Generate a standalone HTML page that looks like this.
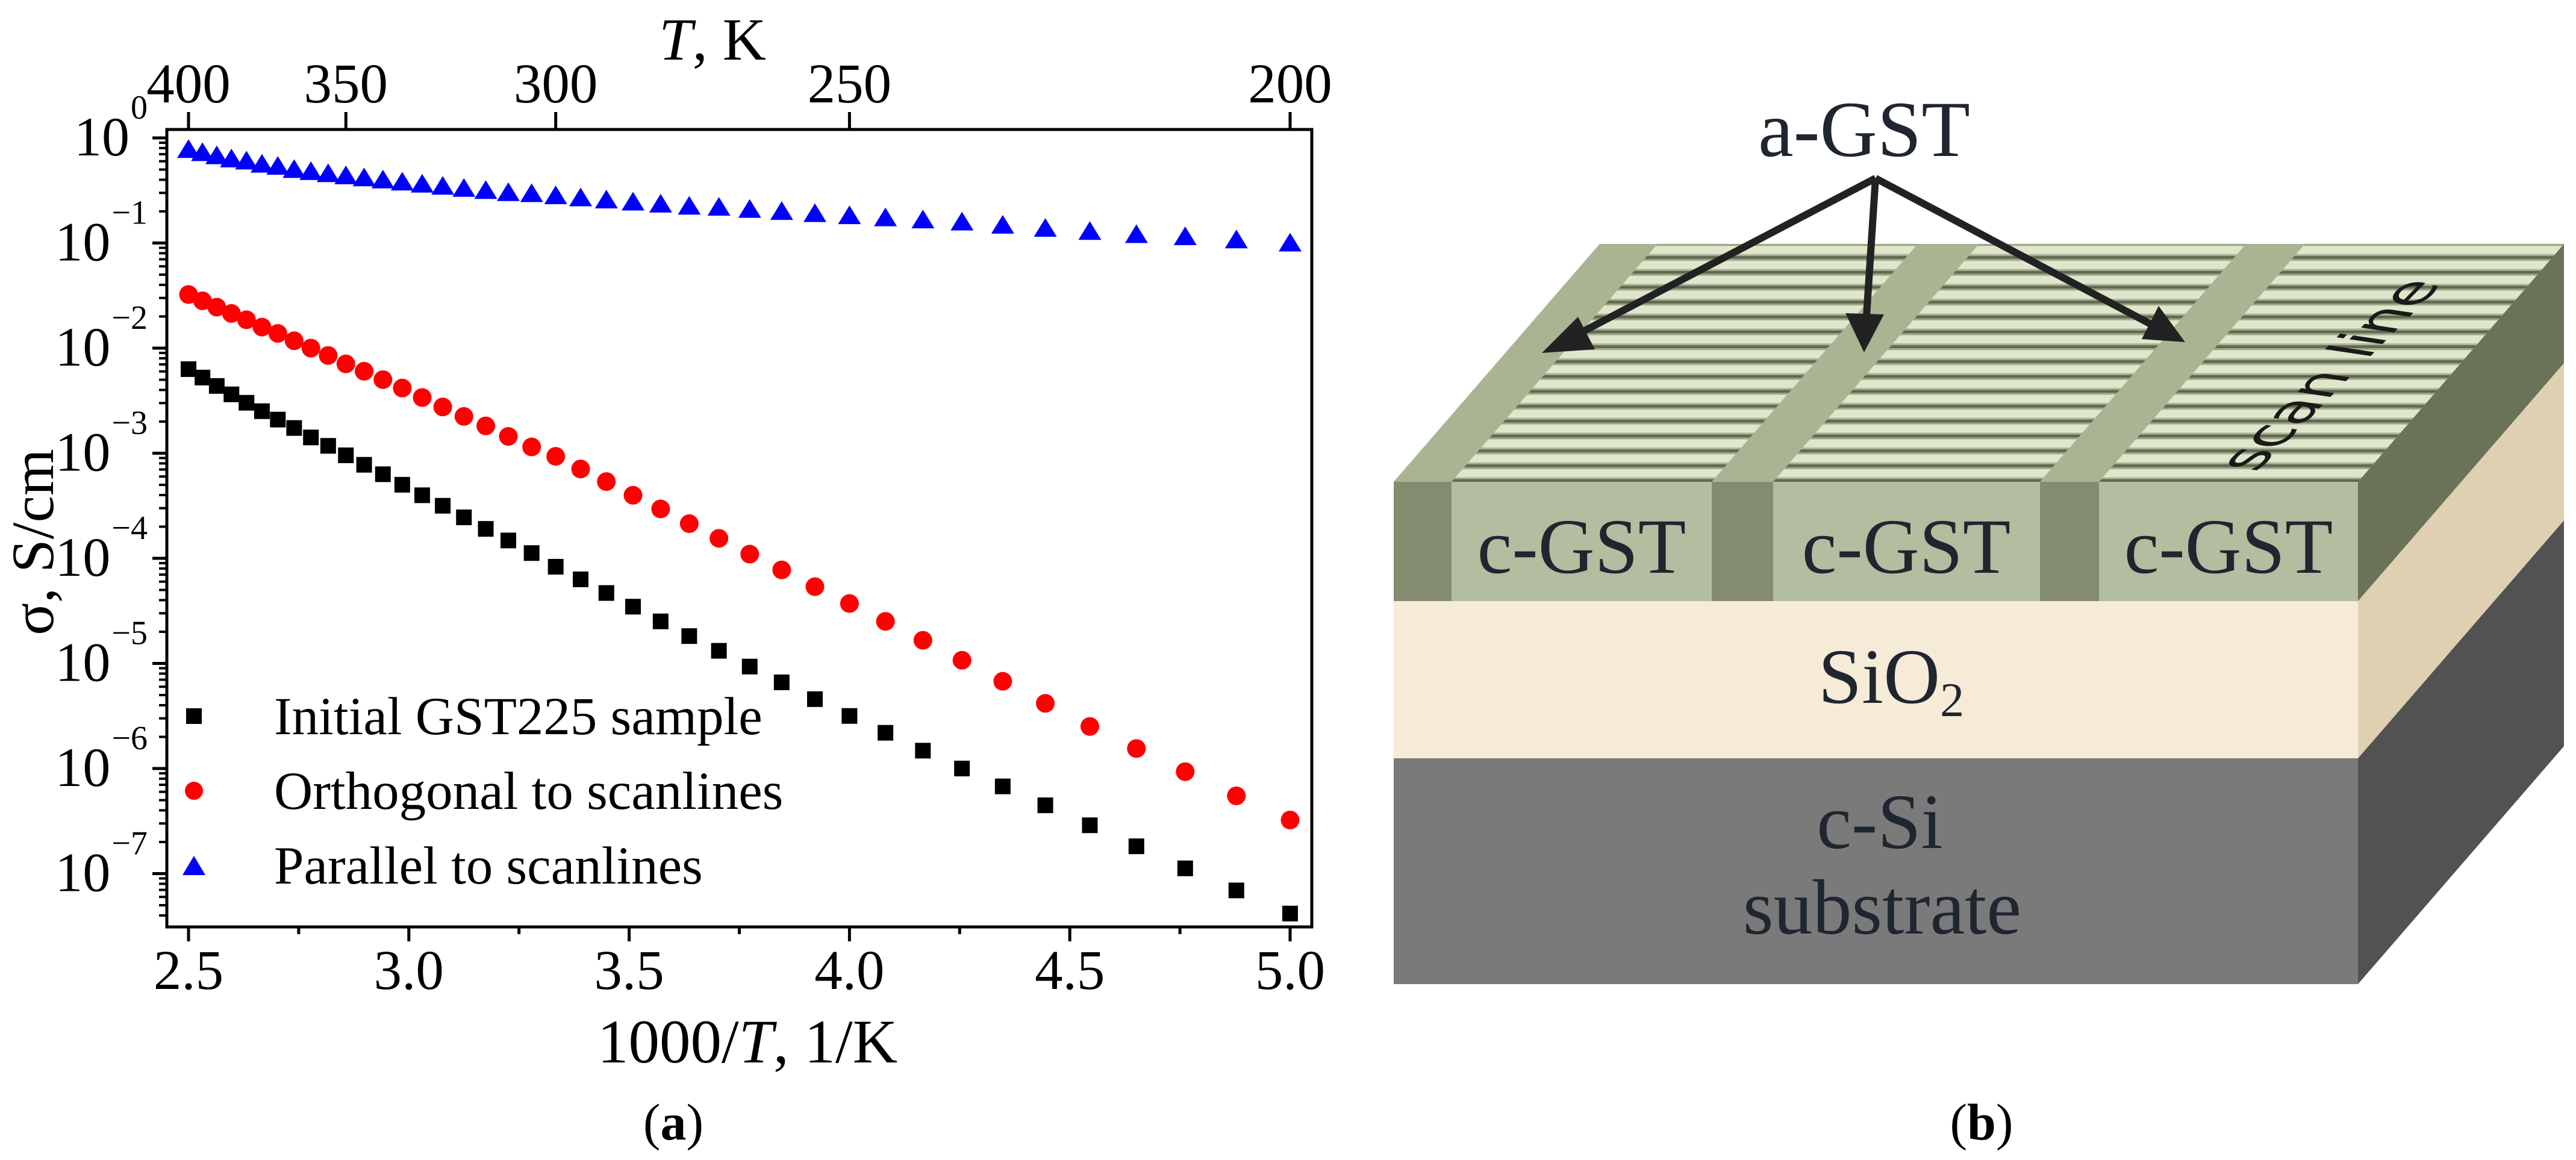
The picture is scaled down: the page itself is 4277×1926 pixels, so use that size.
<!DOCTYPE html>
<html><head><meta charset="utf-8">
<style>
html,body{margin:0;padding:0;background:#fff;}
svg{display:block;}
text{font-family:"Liberation Serif",serif;}
</style></head>
<body>
<svg id="fig" width="4277" height="1926" viewBox="0 0 4277 1926" xmlns="http://www.w3.org/2000/svg">
<defs>
  <pattern id="scan" patternUnits="userSpaceOnUse" width="40" height="24.7" y="410">
    <rect width="40" height="24.7" fill="#dfe6cb"/>
    <rect y="12" width="40" height="3" fill="#a9b294"/>
    <rect y="15" width="40" height="5" fill="#5f6a52"/>
    <rect y="20" width="40" height="3" fill="#9ca687"/>
  </pattern>
</defs>
<g id="chart">
  <g id="marks"></g>
  <rect x="277" y="215" width="1901" height="1324" fill="none" stroke="#000" stroke-width="5"/>
  <g id="axes"></g>
  <text x="1183" y="99" font-size="100" text-anchor="middle"><tspan font-style="italic">T</tspan>, K</text>
  <text x="1241" y="1764" font-size="103" text-anchor="middle">1000/<tspan font-style="italic">T</tspan>, 1/K</text>
  <text transform="translate(88,900) rotate(-90)" font-size="100" text-anchor="middle">σ, S/cm</text>
  <g>
    <rect x="309" y="1176" width="26" height="26" fill="#000"/>
    <text x="455" y="1219" font-size="89">Initial GST225 sample</text>
    <circle cx="322" cy="1313" r="15" fill="#f00"/>
    <text x="455" y="1343" font-size="89">Orthogonal to scanlines</text>
    <polygon points="322,1421 341,1453 303,1453" fill="#00f"/>
    <text x="455" y="1467" font-size="89">Parallel to scanlines</text>
  </g>
  <text x="1118" y="1892" font-size="86" text-anchor="middle">(<tspan font-weight="bold">a</tspan>)</text>
</g>

<g id="diagram">
  <rect x="2314" y="1259" width="1601" height="375" fill="#7a7a7a"/>
  <polygon points="3915,1259 4257,864 4257,1239 3915,1634" fill="#525252"/>
  <rect x="2314" y="998" width="1601" height="261" fill="#f6ebd7"/>
  <polygon points="3915,998 4257,603 4257,864 3915,1259" fill="#dfd0b2"/>
  <rect x="2314" y="800" width="1601" height="198" fill="#b3bd9f"/>
  <rect x="2314" y="800" width="96" height="198" fill="#848c6f"/>
  <rect x="2842" y="800" width="102" height="198" fill="#848c6f"/>
  <rect x="3387" y="800" width="98" height="198" fill="#848c6f"/>
  <polygon points="3915,800 4257,405 4257,603 3915,998" fill="#6a7358"/>
  <polygon points="2314,800 2656,405 4257,405 3915,800" fill="url(#scan)"/>
  <polygon points="2314,800 2656,405 2752,405 2410,800" fill="#a9b592"/>
  <polygon points="2842,800 3184,405 3286,405 2944,800" fill="#a9b592"/>
  <polygon points="3387,800 3729,405 3827,405 3485,800" fill="#a9b592"/>
  <text transform="matrix(0.70,-0.71,1,0.15,3745,785)" font-size="100" fill="#1a1a1a" style="font-family:'DejaVu Sans',sans-serif">scan line</text>
  <text x="2626" y="951" font-size="130" text-anchor="middle" fill="#1f2630">c-GST</text>
  <text x="3165" y="951" font-size="130" text-anchor="middle" fill="#1f2630">c-GST</text>
  <text x="3700" y="951" font-size="130" text-anchor="middle" fill="#1f2630">c-GST</text>
  <text x="3140" y="1167" font-size="130" text-anchor="middle" fill="#1f2630">SiO<tspan font-size="80" dy="22">2</tspan></text>
  <text x="3121" y="1408" font-size="130" text-anchor="middle" fill="#1f2630">c-Si</text>
  <text x="3125" y="1550" font-size="130" text-anchor="middle" fill="#1f2630">substrate</text>
  <text x="3095" y="259" font-size="132" text-anchor="middle" fill="#1f2630">a-GST</text>
  <g stroke="#222" stroke-width="12" fill="#222">
    <line x1="3114" y1="296" x2="2610" y2="560"/>
    <polygon points="2560,586 2620,526 2648,580" stroke="none"/>
    <line x1="3114" y1="296" x2="3098" y2="540"/>
    <polygon points="3095,585 3064,520 3128,522" stroke="none"/>
    <line x1="3114" y1="296" x2="3580" y2="543"/>
    <polygon points="3628,568 3556,563 3584,508" stroke="none"/>
  </g>
  <text x="3290" y="1892" font-size="86" text-anchor="middle">(<tspan font-weight="bold">b</tspan>)</text>
</g>
</svg>
<script>
// Temperatures (K) of measurement points
const temperatures = [400,395,390,385,380,375,370,365,360,355,350,345,340,335,330,325,320,315,310,305,300,295,290,285,280,275,270,265,260,255,250,245,240,235,230,225,220,215,210,205,200];
// log10 of conductivity (S/cm)
const initialLog = [-2.20,-2.28,-2.36,-2.44,-2.52,-2.60,-2.68,-2.76,-2.85,-2.93,-3.02,-3.11,-3.20,-3.30,-3.40,-3.50,-3.61,-3.72,-3.83,-3.95,-4.08,-4.20,-4.33,-4.46,-4.60,-4.74,-4.88,-5.03,-5.18,-5.34,-5.50,-5.66,-5.83,-6.00,-6.17,-6.35,-6.54,-6.74,-6.95,-7.16,-7.38];
const orthogonalLog = [-1.49,-1.55,-1.61,-1.67,-1.73,-1.80,-1.86,-1.93,-2.00,-2.07,-2.15,-2.22,-2.30,-2.38,-2.47,-2.56,-2.65,-2.74,-2.84,-2.94,-3.03,-3.15,-3.27,-3.40,-3.53,-3.67,-3.81,-3.96,-4.11,-4.27,-4.43,-4.60,-4.78,-4.97,-5.17,-5.38,-5.60,-5.81,-6.03,-6.26,-6.49];
const parallelLog = [-0.11,-0.14,-0.17,-0.20,-0.22,-0.25,-0.27,-0.30,-0.32,-0.34,-0.36,-0.38,-0.40,-0.42,-0.44,-0.46,-0.48,-0.50,-0.52,-0.53,-0.55,-0.57,-0.59,-0.61,-0.63,-0.65,-0.66,-0.68,-0.70,-0.72,-0.74,-0.76,-0.78,-0.80,-0.83,-0.86,-0.89,-0.92,-0.94,-0.97,-1.00];
const xTicks = [2.5,3.0,3.5,4.0,4.5,5.0];
const xTickLabels = ["2.5","3.0","3.5","4.0","4.5","5.0"];
const topTicks = [400,350,300,250,200];
const yDecades = [0,-1,-2,-3,-4,-5,-6,-7];

const NS = "http://www.w3.org/2000/svg";
function xs(v){ return 313 + (v - 2.5) * 731.6; }
function ys(l){ return 229 - l * 174.5; }
function mk(tag, attrs, parent){ const e = document.createElementNS(NS, tag); for (const k in attrs) e.setAttribute(k, attrs[k]); parent.appendChild(e); return e; }

const marks = document.getElementById('marks');
temperatures.forEach((T, i) => {
  const x = xs(1000 / T);
  let y = ys(initialLog[i]);
  const sq = mk('rect', {x: x - 13, y: y - 13, width: 26, height: 26, fill: '#000'}, marks);
  
  
  y = ys(orthogonalLog[i]);
  const c = mk('circle', {cx: x, cy: y, r: 15.5, fill: '#f00'}, marks);
  
  
  y = ys(parallelLog[i]);
  const t = mk('polygon', {points: `${x},${y-17} ${x+19},${y+14} ${x-19},${y+14}`, fill: '#00f'}, marks);
  
  
});

const axes = document.getElementById('axes');
xTicks.forEach((v, i) => {
  const x = xs(v);
  const l = mk('line', {x1: x, y1: 1539, x2: x, y2: 1563, stroke: '#000', 'stroke-width': 5}, axes);
  
  
  const t = mk('text', {x: x, y: 1642, 'font-size': 93, 'text-anchor': 'middle'}, axes);
  t.textContent = xTickLabels[i];
  
  
  if (i < xTicks.length - 1) {
    const xm = xs(v + 0.25);
    const m = mk('line', {x1: xm, y1: 1539, x2: xm, y2: 1551, stroke: '#000', 'stroke-width': 5}, axes);
    
    
  }
});
topTicks.forEach(T => {
  const x = xs(1000 / T);
  const l = mk('line', {x1: x, y1: 186, x2: x, y2: 215, stroke: '#000', 'stroke-width': 5}, axes);
  
  
  const t = mk('text', {x: x, y: 170, 'font-size': 93, 'text-anchor': 'middle'}, axes);
  t.textContent = String(T);
  
  
});
yDecades.forEach(d => {
  const y = ys(d);
  const l = mk('line', {x1: 253, y1: y, x2: 277, y2: y, stroke: '#000', 'stroke-width': 5}, axes);
  
  
  for (let k = 2; k <= 9; k++) {
    const ym = ys(d - 1 + Math.log10(k));
    if (ym > 1537) continue;
    const m = mk('line', {x1: 264, y1: ym, x2: 277, y2: ym, stroke: '#000', 'stroke-width': 4}, axes);
    
    
  }
  const t = mk('text', {x: 245, y: y + 29, 'font-size': 92, 'text-anchor': 'end'}, axes);
  
  
  const base = document.createElementNS(NS, 'tspan');
  base.textContent = '10';
  t.appendChild(base);
  const sup = document.createElementNS(NS, 'tspan');
  sup.setAttribute('font-size', '56');
  sup.setAttribute('dy', '-61');
  sup.setAttribute('dx', '2');
  sup.textContent = d === 0 ? '0' : '\u2212' + (-d);
  t.appendChild(sup);
});
</script>
</body></html>
